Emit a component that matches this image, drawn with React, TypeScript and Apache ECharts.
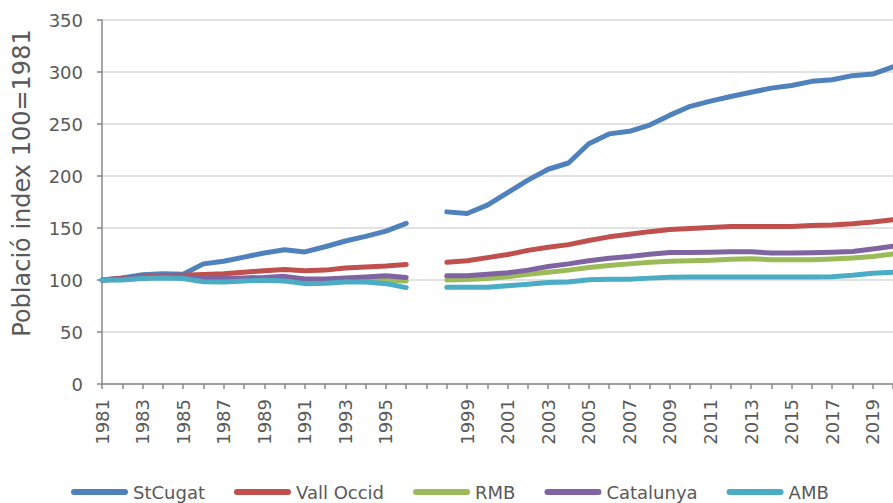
import React, { useEffect, useRef } from "react";
import * as echarts from "echarts";

const years: string[] = [
  "1981","1982","1983","1984","1985","1986","1987","1988","1989","1990",
  "1991","1992","1993","1994","1995","1996","","1998","1999","2000",
  "2001","2002","2003","2004","2005","2006","2007","2008","2009","2010",
  "2011","2012","2013","2014","2015","2016","2017","2018","2019","2020",
];

const stCugat = [100, 102, 105, 106, 105.5, 115.5, 118, 122, 126, 129, 127, 132, 137.5, 142, 147, 154.5, null, 165.5, 164, 172, 184, 196, 206.5, 212.5, 231, 240.5, 243, 249, 258.5, 267, 272, 276.5, 280.5, 284.5, 287, 291, 292.5, 296.5, 298, 305];
const vallOccid = [100, 101.6, 103, 104, 104.6, 105.2, 106, 107.5, 109, 110, 109, 109.5, 111.5, 112.5, 113.5, 115, null, 117, 118.5, 121.5, 124.5, 128.5, 131.5, 134, 138, 141.5, 144, 146.5, 148.5, 149.5, 150.5, 151.5, 151.5, 151.5, 151.5, 152.5, 152.8, 154, 155.7, 158];
const rmb = [100, 100.5, 102, 102.5, 102.5, 100, 100, 100.5, 101, 101.5, 99.5, 99.5, 100, 100, 99.5, 99, null, 100, 100.5, 101.5, 103, 105.5, 107.5, 109.5, 112, 114, 115.5, 117, 118, 118.6, 119, 120, 120.5, 119.5, 119.5, 119.5, 120.3, 121.2, 122.5, 125];
const catalunya = [100, 101, 102.5, 103, 103, 101.5, 101.5, 102, 102.5, 103.5, 101, 101, 102, 103, 104, 102.5, null, 104, 104, 105.5, 107, 109.5, 113, 115.5, 118.5, 121, 122.5, 124.8, 126.5, 126.5, 126.8, 127.2, 127.2, 126, 126, 126.2, 126.8, 127.5, 129.8, 132.5];
const amb = [100, 100, 101.5, 102, 101.5, 98.4, 98, 99, 99.7, 99, 96.5, 96.8, 98, 98, 96.5, 92.7, null, 93, 93, 93, 94.5, 96, 97.7, 98, 100.2, 100.8, 100.8, 101.8, 102.7, 103, 103, 103, 103, 103, 103, 103, 103.2, 104.6, 106.5, 107.5];

const seriesNames = ["StCugat", "Vall Occid", "RMB", "Catalunya", "AMB"];
const seriesColors = ["#4F81BD", "#C0504D", "#9BBB59", "#8064A2", "#4BACC6"];
const seriesData = [stCugat, vallOccid, rmb, catalunya, amb];

const yTitle = "Població index 100=1981";
const FONT = "DejaVu Sans";
const TEXT = "#595959";

export default function App() {
  const ref = useRef<HTMLDivElement>(null);
  useEffect(() => {
    if (!ref.current) return;
    const chart = echarts.init(ref.current, undefined, { renderer: "svg" });
    chart.setOption({
      animation: false,
      backgroundColor: "#ffffff",
      grid: { left: 102, top: 20, bottom: 119, right: -10.5, containLabel: false },
      xAxis: {
        type: "category",
        data: years,
        boundaryGap: false,
        axisLine: { lineStyle: { color: "#898989", width: 1.5 } },
        axisTick: { show: true, interval: 0, length: 5, lineStyle: { color: "#898989", width: 1.5 } },
        axisLabel: { interval: 1, rotate: 90, margin: 15, fontSize: 18, color: TEXT, fontFamily: FONT },
        splitLine: { show: false },
      },
      yAxis: {
        type: "value",
        min: 0,
        max: 350,
        interval: 50,
        axisLine: { show: true, lineStyle: { color: "#898989", width: 1.5 } },
        axisTick: { show: true, length: 5, lineStyle: { color: "#898989", width: 1.5 } },
        axisLabel: { margin: 19, fontSize: 18, color: TEXT, fontFamily: FONT },
        splitLine: { lineStyle: { color: "#D9D9D9", width: 1.5 } },
      },
      legend: {
        data: seriesNames,
        left: 66,
        top: 478,
        itemWidth: 57,
        itemHeight: 6,
        itemGap: 29,
        icon: "path://M3,0 H54 A3,3 0 0 1 54,6 H3 A3,3 0 0 1 3,0 Z",
        textStyle: { fontSize: 18, color: TEXT, fontFamily: FONT },
      },
      graphic: [
        {
          type: "text",
          x: 22,
          y: 183,
          rotation: Math.PI / 2,
          style: {
            text: yTitle,
            fontSize: 24,
            fontFamily: FONT,
            fill: TEXT,
            align: "center",
            verticalAlign: "middle",
          },
        },
      ],
      series: seriesNames.map((name, i) => ({
        name,
        type: "line",
        data: seriesData[i],
        symbol: "none",
        connectNulls: false,
        color: seriesColors[i],
        lineStyle: { width: 5, color: seriesColors[i], cap: "round", join: "round" },
      })),
    });
    return () => chart.dispose();
  }, []);
  return (
    <div
      ref={ref}
      style={{ position: "absolute", left: 0, top: 0, width: 893, height: 503 }}
    />
  );
}
